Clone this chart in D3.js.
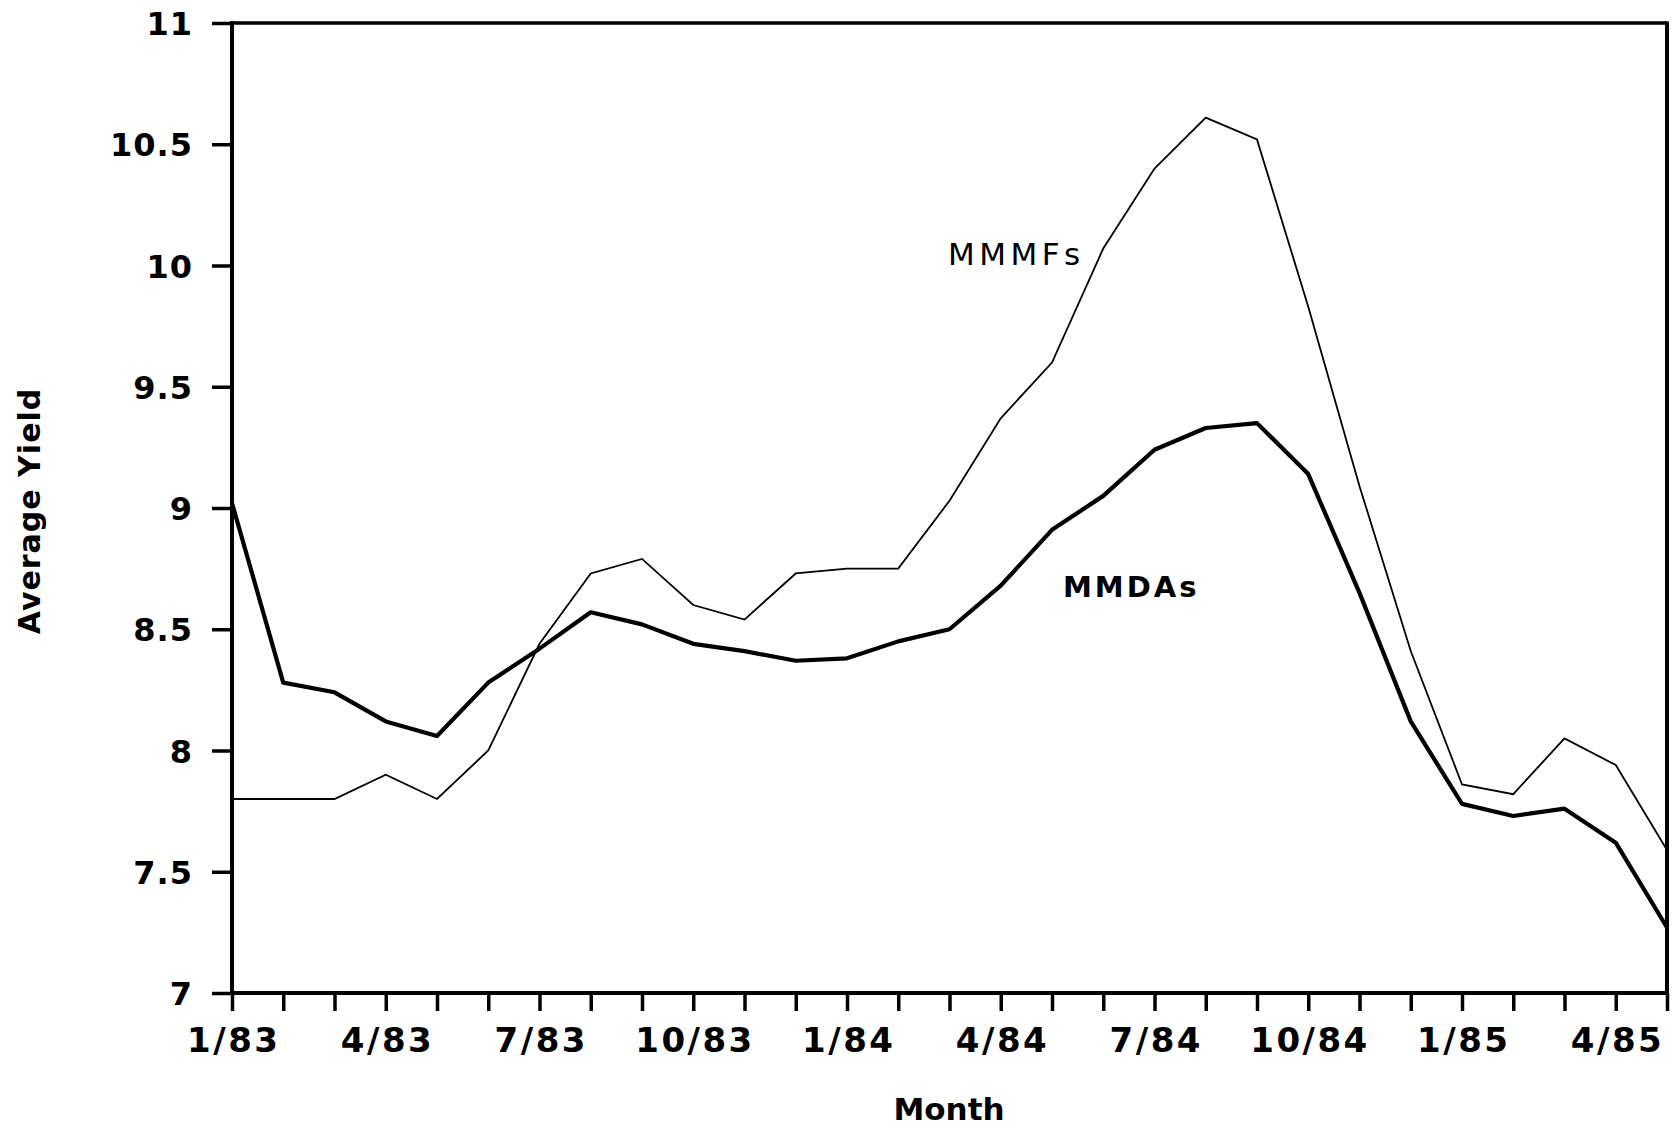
<!DOCTYPE html>
<html>
<head>
<meta charset="utf-8">
<script src="https://cdn.jsdelivr.net/npm/d3@7"></script>
<style>
  html, body { margin: 0; padding: 0; background: #fff; }
  svg { display: block; }
  text { fill: #000; }
</style>
</head>
<body>
<svg id="chart" width="1679" height="1128"></svg>
<script>
// Monthly periods, January 1983 through May 1985
const months = [
  "1/83","2/83","3/83","4/83","5/83","6/83","7/83","8/83","9/83","10/83","11/83","12/83",
  "1/84","2/84","3/84","4/84","5/84","6/84","7/84","8/84","9/84","10/84","11/84","12/84",
  "1/85","2/85","3/85","4/85","5/85"
];

// Average yield on money market deposit accounts
const mmdaYield = [
  9.02, 8.28, 8.24, 8.12, 8.06, 8.28, 8.42, 8.57, 8.52, 8.44, 8.41, 8.37,
  8.38, 8.45, 8.50, 8.68, 8.91, 9.05, 9.24, 9.33, 9.35, 9.14, 8.65, 8.12,
  7.78, 7.73, 7.76, 7.62, 7.27
];

// Average yield on money market mutual funds
const mmmfYield = [
  7.80, 7.80, 7.80, 7.90, 7.80, 8.00, 8.44, 8.73, 8.79, 8.60, 8.54, 8.73,
  8.75, 8.75, 9.03, 9.37, 9.60, 10.07, 10.40, 10.61, 10.52, 9.83, 9.09, 8.41,
  7.86, 7.82, 8.05, 7.94, 7.59
];

const yTicks = [7, 7.5, 8, 8.5, 9, 9.5, 10, 10.5, 11];
const labelledMonths = ["1/83","4/83","7/83","10/83","1/84","4/84","7/84","10/84","1/85","4/85"];

const svg = d3.select("#chart");
const plotL = 232, plotR = 1667, plotT = 23, plotB = 993;

const x = d3.scaleLinear().domain([0, months.length - 1]).range([plotL, plotR]);
const y = d3.scaleLinear().domain([7, 11]).range([plotB, plotT]);

const FONT = "'DejaVu Sans', sans-serif";

// Frame (top and right edges)
svg.append("line").attr("x1", plotL).attr("x2", plotR).attr("y1", plotT).attr("y2", plotT)
  .attr("stroke", "#000").attr("stroke-width", 3.5);
svg.append("line").attr("x1", plotR).attr("x2", plotR).attr("y1", plotT - 1.5).attr("y2", plotB)
  .attr("stroke", "#000").attr("stroke-width", 4);

// Y axis
const yAxis = svg.append("g")
  .attr("transform", `translate(${plotL},0)`)
  .call(d3.axisLeft(y).tickValues(yTicks).tickSize(20).tickPadding(19)
    .tickFormat(d => String(d)));
yAxis.select(".domain").attr("stroke", "#000").attr("stroke-width", 4)
  .attr("d", `M0,${plotB}V${plotT - 2}`);
yAxis.selectAll(".tick line").attr("stroke", "#000").attr("stroke-width", 3.5);
yAxis.selectAll(".tick text")
  .style("font-family", FONT).style("font-weight", "bold").style("font-size", "32px")
  .style("letter-spacing", "1px").attr("dy", "0.36em");

// X axis: a tick every month, labels every quarter
const xAxis = svg.append("g")
  .attr("transform", `translate(0,${plotB})`)
  .call(d3.axisBottom(x).tickValues(d3.range(months.length)).tickSize(18).tickPadding(17)
    .tickFormat(i => labelledMonths.includes(months[i]) ? months[i] : ""));
xAxis.select(".domain").attr("stroke", "#000").attr("stroke-width", 4)
  .attr("d", `M${plotL - 2},0H${plotR + 2}`);
xAxis.selectAll(".tick line").attr("stroke", "#000").attr("stroke-width", 3.5);
xAxis.selectAll(".tick text")
  .style("font-family", FONT).style("font-weight", "bold").style("font-size", "34px")
  .style("letter-spacing", "2.5px").attr("dx", "1.25px");

// Axis titles
svg.append("text")
  .attr("x", 949).attr("y", 1120)
  .attr("text-anchor", "middle")
  .style("font-family", FONT).style("font-weight", "bold").style("font-size", "31px")
  .text("Month");

svg.append("text")
  .attr("transform", "translate(40,511) rotate(-90)")
  .attr("text-anchor", "middle")
  .style("font-family", FONT).style("font-weight", "bold").style("font-size", "30px")
  .style("letter-spacing", "1px")
  .text("Average Yield");

// Series lines
const line = d3.line().x((d, i) => x(i)).y(d => y(d));

svg.append("path").datum(mmmfYield)
  .attr("d", line).attr("fill", "none").attr("stroke", "#000")
  .attr("stroke-width", 1.8).attr("stroke-linejoin", "miter");

svg.append("path").datum(mmdaYield)
  .attr("d", line).attr("fill", "none").attr("stroke", "#000")
  .attr("stroke-width", 4.2).attr("stroke-linejoin", "round");

// Series labels
svg.append("text")
  .attr("x", 948).attr("y", 265)
  .style("font-family", FONT).style("font-size", "31px")
  .style("letter-spacing", "4.5px")
  .text("MMMFs");

svg.append("text")
  .attr("x", 1063).attr("y", 597)
  .style("font-family", FONT).style("font-weight", "bold").style("font-size", "29px")
  .style("letter-spacing", "3px")
  .text("MMDAs");
</script>
</body>
</html>
